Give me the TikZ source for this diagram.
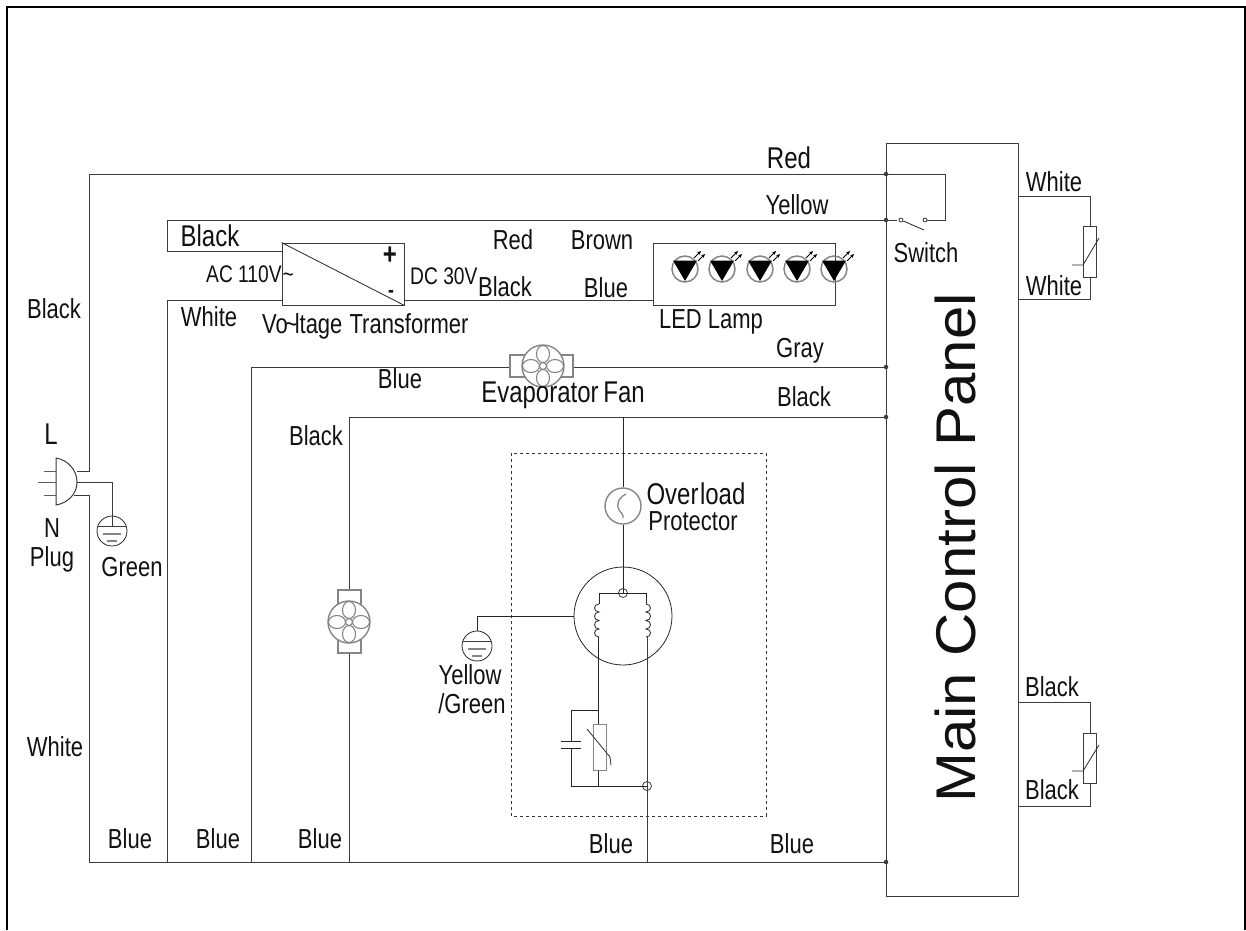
\documentclass[tikz,border=0pt]{standalone}
\usepackage{fontspec}
\setmainfont[FakeStretch=0.8]{Liberation Sans}
\newfontfamily\widefont[FakeStretch=1.07]{Liberation Sans}
\usetikzlibrary{arrows.meta}
\definecolor{wirec}{HTML}{3C3C3C}
\definecolor{textc}{HTML}{111111}
\definecolor{fangray}{HTML}{858585}
\tikzset{
  wire/.style={draw=wirec,line width=1pt},
  thinw/.style={draw=black!85,line width=0.8pt},
  lab/.style={inner sep=0pt,text=textc,font=\fontsize{27.5}{27.5}\selectfont},
  labbig/.style={lab,font=\fontsize{30}{30}\selectfont},
  labsmall/.style={lab,font=\fontsize{24}{24}\selectfont},
  dot/.style={circle,fill=wirec,inner sep=0pt,minimum size=4.5pt},
  ring/.style={circle,draw=wirec,line width=0.8pt,inner sep=0pt,minimum size=9pt},
  boxn/.style={draw=wirec,line width=1pt,inner sep=0pt,fill=white},
  fanbody/.style={draw=fangray,line width=1.2pt,inner sep=0pt,fill=white},
  fanround/.style={circle,draw=fangray,line width=1.4pt,inner sep=0pt,minimum size=42pt,fill=white},
  gndc/.style={circle,draw=black!85,line width=0.8pt,inner sep=0pt,minimum size=30pt},
  fanpetals/.pic={
    \foreach \a/\b in {0/-12,0/12}{\draw[fangray,line width=1.1pt] (\a,\b) ellipse [x radius=6.5pt,y radius=8.5pt];}
    \foreach \a/\b in {-12/0,12/0}{\draw[fangray,line width=1.1pt] (\a,\b) ellipse [x radius=8.5pt,y radius=6.5pt];}
    \draw[fangray,line width=1.1pt] (0,0) circle (3.5pt);
  },
  groundmarks/.pic={
    \draw[wirec,line width=1pt] (-14,-5) -- (14,-5);
    \draw[fangray,line width=1.1pt] (-9,3) -- (9,3);
    \draw[fangray,line width=1.1pt] (-5,10) -- (5,10);
  },
}
\begin{document}
\begin{tikzpicture}[x=1pt,y=-1pt]
\useasboundingbox (0,0) rectangle (1246,930);
% outer frame
\coordinate (fbl) at (6.5,930);
\coordinate (ftl) at (6.5,7);
\coordinate (ftr) at (1244.5,7);
\coordinate (fbr) at (1244.5,930);
\draw[black,line width=2pt] (fbl) -- (ftl) -- (ftr) -- (fbr);
% boxes
\node[boxn,minimum width=132pt,minimum height=753pt] (panel) at (952,519.5) {};
\node[boxn,minimum width=122pt,minimum height=62pt] (trans) at (343,274) {};
\node[boxn,draw=wirec,fill=none,minimum width=182pt,minimum height=62pt] (ledbox) at (744,274) {};
\draw[dashed,draw=black!80,line width=0.8pt] (511,453) rectangle (766,816);
% junction points
\foreach \n/\x/\y in {pr/886/174,py/886/220,pg/886/367,pk/886/417,pb/886/862}{
  \node[dot] (\n) at (\x,\y) {};
}
\foreach \n/\x/\y in {
  redL/89/174, redR/945/174, swR/945/220,
  yelL/167/220, blkD/167/251, whtT/167/300, whtB/167/862,
  plugL/77/471, lTurn/89/471, plugN/74/495, nTurn/89/495, botL/89/862,
  plugE/77/482, eTurn/112/482,
  gT/251/367, gB/251/862, kT/349/417, kB/349/862,
  ovT/623/417, motorBot/647/862, wT/1018/196, wR/1090/196, wBR/1090/299, wBL/1018/299,
  kkT/1018/702, kkR/1090/702, kkBR/1090/806, kkBL/1018/806
}{\coordinate (\n) at (\x,\y);}
% main wires
\draw[wire] (pr.center) -- (redL) -- (lTurn) -- (plugL);
\draw[wire] (pr.center) -- (redR) -- (swR) -- (925,220);
\draw[wire] (blkD) -- (yelL) -- (py.center);
\draw[wire] (py.center) -- (897,220);
\draw[wire] (blkD) -- (trans.west |- blkD);
\draw[wire] (trans.west |- whtT) -- (whtT) -- (whtB);
\draw[wire] (trans.east |- whtT) -- (ledbox.west |- whtT);
\draw[wire] (plugN) -- (nTurn) -- (botL) -- (pb.center);
\draw[wire] (plugE) -- (eTurn);
\draw[wire] (gB) -- (gT);
\draw[wire] (kB) -- (kT) -- (pk.center);
% switch
\node[ring,minimum size=4pt,fill=white] (sw1) at (901,220) {};
\node[ring,minimum size=4pt,fill=white] (sw2) at (925,220) {};
\coordinate (swBlade) at (924,230);
\draw[thinw] (sw1) -- (swBlade);
% transformer details
\draw[thinw] (trans.north west) -- (trans.south east);
\node[inner sep=0pt,text=textc,font=\bfseries\fontsize{30}{30}\selectfont] (plus) at (390,256) {+};
\node[inner sep=0pt,text=textc,font=\bfseries\fontsize{22}{22}\selectfont] (minus) at (391,294) {-};
% evaporator fan
\draw[wire] (gT) -- (510,367);
\draw[wire] (573,367) -- (pg.center);
\node[fanbody,minimum width=63pt,minimum height=22pt] (evapb) at (541.5,366) {};
\node[fanround] (evap) at (543,366) {};
\pic at (evap) {fanpetals};
% condenser fan
\node[fanbody,minimum width=23pt,minimum height=63pt] (condb) at (349.5,621.5) {};
\node[fanround] (cond) at (349,622) {};
\pic at (cond) {fanpetals};
% plug
\draw[wirec,line width=1pt] (56,458) .. controls (68,460) and (77,470) .. (77,482) .. controls (77,494) and (68,503) .. (56,505) -- cycle;
\draw[fangray!70!black,line width=1pt] (44,471) -- (56,471);
\draw[fangray!70!black,line width=1pt] (38,482) -- (56,482);
\draw[fangray!70!black,line width=1pt] (44,495) -- (56,495);
% plug ground
\node[gndc] (g1) at (112,531) {};
\draw[wire] (eTurn) -- (g1.center |- 0,526);
\pic at (g1) {groundmarks};
% overload
\node[circle,draw=fangray,line width=1.4pt,inner sep=0pt,minimum size=36pt] (ov) at (623,506) {};
\draw[thinw] (ovT) -- (ov.north);
\draw[fangray,line width=1.3pt] (626,494) .. controls (618,498) and (616,505) .. (619,510) .. controls (621,513) and (624,515) .. (623,518);
% motor
\node[circle,draw=black!85,line width=0.8pt,inner sep=0pt,minimum size=98pt] (motor) at (623,616) {};
\node[ring] (mtop) at (623,593) {};
\draw[thinw] (ov.south) -- (mtop.center);
\draw[thinw] (599,604) -- (599,593) -- (646,593) -- (646,604);
\draw[wirec,line width=0.9pt] (599,604) .. controls (593,604) and (593,612) .. (599,612) .. controls (593,612) and (593,620.5) .. (599,620.5) .. controls (593,620.5) and (593,629) .. (599,629) .. controls (593,629) and (593,637) .. (599,637);
\draw[wirec,line width=0.9pt] (646,604) .. controls (652,604) and (652,612) .. (646,612) .. controls (652,612) and (652,620.5) .. (646,620.5) .. controls (652,620.5) and (652,629) .. (646,629) .. controls (652,629) and (652,637) .. (646,637);
% lower motor wires and start components
\node[ring] (mbot) at (647,786) {};
\draw[wire] (647,637) -- (motorBot);
\draw[thinw] (598.5,637) -- (598.5,724);
\draw[thinw] (598.5,770) -- (598.5,786);
\draw[thinw] (571,786) -- (mbot.center);
\draw[thinw] (598.5,710) -- (571,710) -- (571,741);
\draw[thinw] (571,748) -- (571,786);
\draw[thinw] (561,741) -- (581,741);
\draw[thinw] (561,748) -- (581,748);
\node[draw=fangray,line width=1pt,inner sep=0pt,minimum width=13pt,minimum height=46pt] (ptc) at (599.5,747) {};
\draw[wirec,line width=0.9pt] (587,729) -- (610,757) -- (611,765);
% compressor ground
\coordinate (g2t) at (477,616);
\node[gndc] (g2) at (477,646) {};
\draw[thinw] (motor.west) -- (g2t) -- (g2.north);
\pic at (g2) {groundmarks};
% LEDs
\foreach \i/\x in {1/685,2/722,3/760,4/797,5/834}{
  \node[circle,draw=fangray,line width=1.5pt,inner sep=0pt,minimum size=26pt] (led\i) at (\x,269) {};
  \fill[black] (\x-12,260.5) -- (\x+12,260.5) -- (\x,281) -- cycle;
  \draw[black,line width=0.9pt,-{Stealth[length=4pt,width=3.5pt]}] (\x+9,258) -- (\x+16,251);
  \draw[black,line width=0.9pt,-{Stealth[length=4pt,width=3.5pt]}] (\x+13,261) -- (\x+20,254);
}
% right side resistors
\node[boxn,draw=wirec,minimum width=13pt,minimum height=51pt] (r1) at (1089.5,251.5) {};
\draw[wire] (wT) -- (wR) -- (r1.north -| wR);
\draw[wire] (r1.south -| wR) -- (wBR) -- (wBL);
\draw[thinw] (1099,238) -- (1083,265) -- (1072,265);
\node[boxn,draw=wirec,minimum width=13pt,minimum height=50pt] (r2) at (1089.5,758) {};
\draw[wire] (kkT) -- (kkR) -- (r2.north -| kkR);
\draw[wire] (r2.south -| kkR) -- (kkBR) -- (kkBL);
\draw[thinw] (1099,745) -- (1083,771) -- (1072,771);
% labels
\node[labbig] (tRed) at (789,158) {Red};
\node[lab] (tYel) at (797,205) {Yellow};
\node[labbig] (tBlk1) at (210,236) {Black};
\node[lab] (tRed2) at (513,240) {Red};
\node[lab] (tBrown) at (602,240) {Brown};
\node[labsmall,anchor=west] (tAC) at (206,274) {AC 110V\kern1pt\textasciitilde};
\node[labsmall,anchor=west] (tDC) at (410,276) {DC 30V};
\node[lab] (tBlk2) at (505,287) {Black};
\node[lab] (tBlue0) at (606,288) {Blue};
\node[lab] (tWh1) at (209,317) {White};
\node[lab,anchor=west] (tVT) at (262,326) {Vo\kern-3pt\textasciitilde\kern-3pt ltage\kern1pt\ Transformer};
\node[lab] (tLED) at (711,322) {LED Lamp};
\node[lab] (tBlk3) at (54,309) {Black};
\node[labbig] (tL) at (51,434) {L};
\node[lab] (tN) at (52,528) {N};
\node[lab] (tPlug) at (52,559) {Plug};
\node[lab] (tGreen) at (132,567) {Green};
\node[lab] (tWh2) at (55,747) {White};
\node[lab] (tB1) at (130,839) {Blue};
\node[lab] (tB2) at (218,839) {Blue};
\node[lab] (tB3) at (320,839) {Blue};
\node[lab] (tB4) at (611,844) {Blue};
\node[lab] (tB5) at (792,844) {Blue};
\node[lab] (tB6) at (400,379) {Blue};
\node[lab] (tBlk4) at (316,436) {Black};
\node[lab] (tGray) at (800,351) {Gray};
\node[lab] (tBlk5) at (804,397) {Black};
\node[labbig] (tEvap) at (563,395) {Evaporator\kern-2pt\ Fan};
\node[labbig] (tOv) at (696,494) {Over\kern1.5pt load};
\node[lab] (tProt) at (693,521) {Protector};
\node[lab] (tSw) at (926,253) {Switch};
\node[lab] (tYG1) at (470,675) {Yellow};
\node[lab] (tYG2) at (472,704) {/Green};
\node[lab] (tW3) at (1054,182) {White};
\node[lab] (tW4) at (1054,286) {White};
\node[lab] (tK1) at (1052,687) {Black};
\node[lab] (tK2) at (1052,790) {Black};
\node[inner sep=0pt,text=textc,rotate=90,font=\widefont\fontsize{56}{56}\selectfont] (tMain) at (955,548) {Main Control Panel};
\end{tikzpicture}
\end{document}
